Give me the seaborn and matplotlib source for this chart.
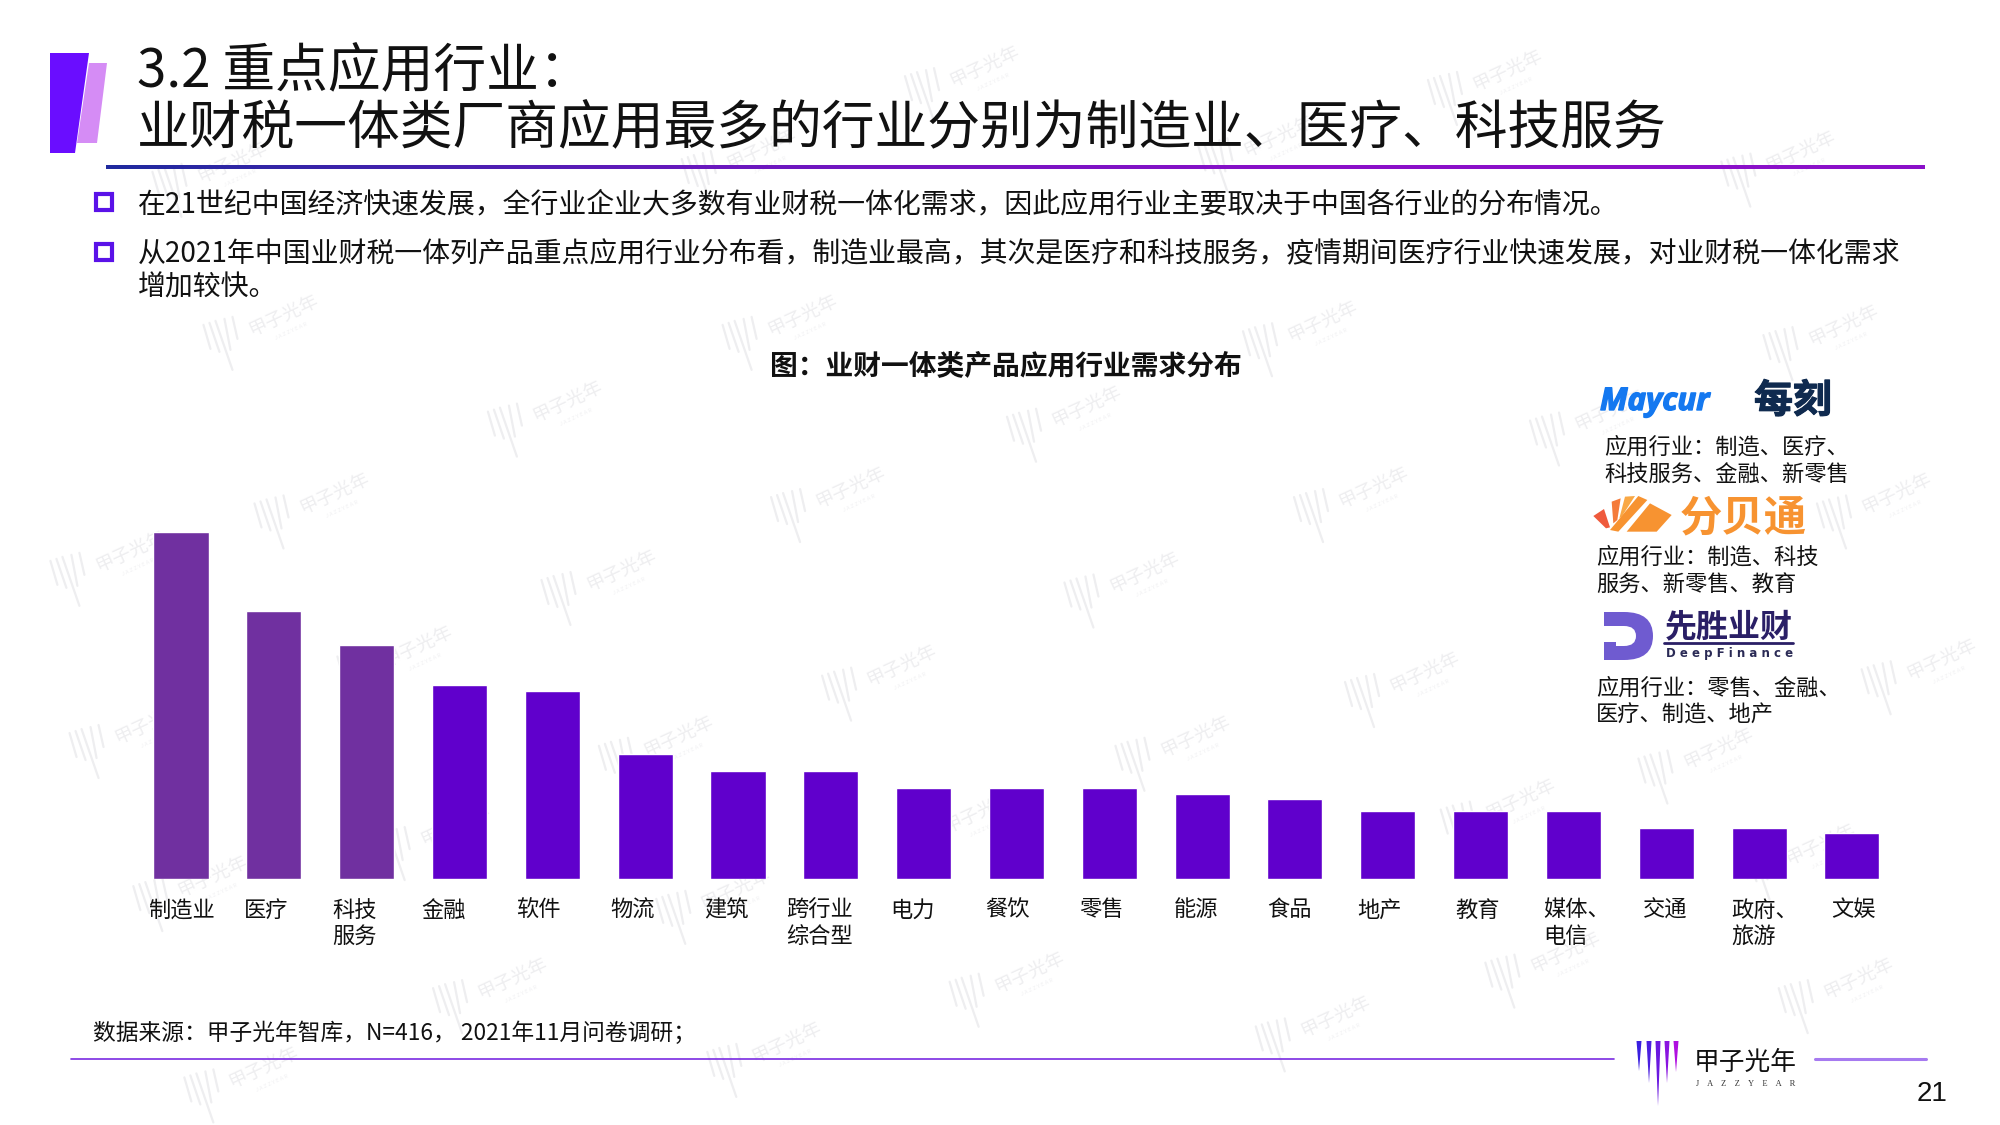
import numpy as np
import pandas as pd
import seaborn as sns
import matplotlib
matplotlib.use("Agg")
import matplotlib.pyplot as plt
import matplotlib.patheffects as pe
from matplotlib.patches import Polygon, Rectangle, PathPatch
from matplotlib.path import Path
from matplotlib.colors import LinearSegmentedColormap
from matplotlib.transforms import ScaledTranslation

# ---------- data ----------
categories = ["制造业", "医疗", "科技\n服务", "金融", "软件", "物流", "建筑", "跨行业\n综合型", "电力", "餐饮",
              "零售", "能源", "食品", "地产", "教育", "媒体、\n电信", "交通", "政府、\n旅游", "文娱"]
values = [61, 47, 41, 34, 33, 22, 19, 19, 16, 16, 16, 15, 14, 12, 12, 12, 9, 9, 8]
highlight = ["#7030A0"] * 3 + ["#6000CC"] * 16
label_shift_px = [0, -8, -12, -15.5, -14, -13, -12, -11.5, -11, -9, -7.5, -6.5, -5.5, -8, -3.5, 3.5, -1, 6, 1]
left_aligned = {"媒体、\n电信", "政府、\n旅游"}

title_lines = ["3.2 重点应用行业：", "业财税一体类厂商应用最多的行业分别为制造业、医疗、科技服务"]
bullets = ["在21世纪中国经济快速发展，全行业企业大多数有业财税一体化需求，因此应用行业主要取决于中国各行业的分布情况。",
           "从2021年中国业财税一体列产品重点应用行业分布看，制造业最高，其次是医疗和科技服务，疫情期间医疗行业快速发展，对业财税一体化需求",
           "增加较快。"]
chart_title = "图：业财一体类产品应用行业需求分布"
source = "数据来源：甲子光年智库，N=416， 2021年11月问卷调研；"
vendor_text = [("应用行业：制造、医疗、", "科技服务、金融、新零售"),
               ("应用行业：制造、科技", "服务、新零售、教育"),
               ("应用行业：零售、金融、", "医疗、制造、地产")]

sns.set_theme(style="white")
CJK = ["Noto Sans CJK SC", "DejaVu Sans"]
plt.rcParams["font.family"] = CJK

W, H = 2000, 1125
fig = plt.figure(figsize=(W / 100, H / 100), dpi=100, facecolor="white")
bg = fig.add_axes([0, 0, 1, 1], zorder=0)
bg.set_xlim(0, W); bg.set_ylim(H, 0); bg.axis("off")


def put(x, y, s, size, color="#111111", ha="left", va="center", **kw):
    return bg.text(x, y, s, fontsize=size, color=color, ha=ha, va=va, **kw)


# ---------- watermarks ----------
wm_centres = [(755, 55), (1165, 58), (1395, 122), (985, 110), (580, 120), (165, 130),
              (205, 250), (612, 250), (1020, 255), (1428, 258),
              (428, 318), (835, 322), (1245, 325),
              (245, 390), (650, 385), (1060, 385), (1470, 390),
              (85, 435), (470, 450), (880, 452),
              (310, 510), (690, 525), (1100, 530), (1505, 520),
              (100, 570), (515, 580), (920, 580), (1330, 590),
              (340, 650), (750, 640), (1175, 630), (1410, 665),
              (150, 690), (560, 700),
              (385, 770), (790, 765), (1210, 750), (1440, 770),
              (190, 840), (600, 820), (1030, 800)]
wm_lines = [((-58, 6), (-51, 30)), ((-52, 4), (-42, 33)), ((-46, 2), (-29, 51)),
            ((-37, 0), (-31, 31)), ((-29, -2), (-24, 20))]
for cx, cy in wm_centres:
    px, py = cx * 1.2755, cy * 1.2755
    for (a, b), (c, d) in wm_lines:
        bg.plot([px + a, px + c], [py + b, py + d], color="#eeeef0", lw=1.6, zorder=1, solid_capstyle="round")
    put(px + 22, py - 4, "甲子光年", 13.5, color="#eeeef0", ha="center", rotation=25, zorder=1)
    put(px + 30, py + 12, "J A Z Z Y E A R", 4, color="#f0f0f2", ha="center", rotation=25, zorder=1)

# ---------- header ----------
bg.add_patch(Polygon([(50, 53), (89, 53), (75, 153), (50, 153)], color="#6A0DFF", lw=0, zorder=3))
bg.add_patch(Polygon([(89, 63), (107, 63), (97, 143), (77, 143)], color="#D58CF5", lw=0, zorder=2))
grad = LinearSegmentedColormap.from_list("g", ["#1F2A9E", "#6A18BE", "#8A10C8", "#8A10C8"])
bg.imshow(np.linspace(0, 1, 256).reshape(1, -1), cmap=grad, aspect="auto",
          extent=(106, 1925, 169, 165), zorder=3)
bg.set_xlim(0, W); bg.set_ylim(H, 0)

put(137, 72, title_lines[0], 38)
put(137, 129, title_lines[1], 38)
for y in (202, 252):
    bg.add_patch(Rectangle((96, y - 8), 16, 16, fill=False, ec="#5A12E8", lw=3, zorder=3))
put(138, 204, bullets[0], 20.1)
put(138, 254, bullets[1], 20.1)
put(138, 288, bullets[2], 20.1)
put(1006, 366, chart_title, 20, ha="center", fontweight="bold")

# ---------- bars ----------
BASE, TOP, LEFT, RIGHT = 879, 482, 135, 1900
PER_BAR = 92.83
ax = fig.add_axes([LEFT / W, 1 - BASE / H, (RIGHT - LEFT) / W, (BASE - TOP) / H], zorder=2)
ax.patch.set_alpha(0)
df = pd.DataFrame({"行业": categories, "需求": values})
sns.barplot(data=df, x="行业", y="需求", hue="行业", palette=highlight, width=0.593,
            dodge=False, legend=False, saturation=1, ax=ax)
ax.set_xlim((LEFT - 181) / PER_BAR, (RIGHT - 181) / PER_BAR)
ax.set_ylim(0, 69.7)
ax.set_xlabel(""); ax.set_ylabel(""); ax.set_yticks([])
sns.despine(ax=ax, left=True, bottom=True)
ax.tick_params(axis="x", length=0, pad=14, labelsize=16, labelcolor="#111111")
ax.grid(False)
for lab, dx in zip(ax.get_xticklabels(), label_shift_px):
    lab.set_linespacing(1.17)
    lab.set_verticalalignment("top")
    if lab.get_text() in left_aligned:
        lab.set_multialignment("left")
    lab.set_transform(lab.get_transform() + ScaledTranslation(dx / 100, 0, fig.dpi_scale_trans))

# ---------- vendors ----------
t = put(1600, 402, "Maycur", 22.5, color="#1478F0", fontweight="bold", style="italic", family="Open Sans")
t.set_path_effects([pe.withStroke(linewidth=1.0, foreground="#1478F0")])
t = put(1754, 401, "每刻", 28, color="#0F2A4F", fontweight="bold")
t.set_path_effects([pe.withStroke(linewidth=0.8, foreground="#0F2A4F")])
for (x, y1, y2), (a, b) in zip([(1604, 447, 475.5), (1596, 557, 585.5), (1596, 688, 715.5)], vendor_text):
    put(x, y1, a, 16)
    put(x, y2, b, 16)


def z(pts):
    return [(1500 + p / 3, 360 + q / 3) for p, q in pts]


for pts, c in [([(280, 468), (312, 447), (330, 502), (318, 505)], "#EF5A3C"),
               ([(335, 425), (362, 415), (352, 480), (340, 490)], "#F47B3A"),
               ([(375, 410), (405, 408), (365, 470), (358, 475)], "#F9A845"),
               ([(415, 408), (442, 420), (355, 515), (330, 510)], "#F79331"),
               ([(380, 515), (450, 430), (515, 465), (470, 515)], "#F79331")]:
    bg.add_patch(Polygon(z(pts), color=c, lw=0, zorder=3))
put(1680, 518, "分贝通", 30.5, color="#F79331", fontweight="bold")

x0, x1, y0, y1 = 1604, 1652, 612, 660
ym = (y0 + y1) / 2
verts = [(x0, y0), (x0 + 20, y0), (x1 + 1, y0), (x1 + 1, ym), (x1 + 1, y1), (x0 + 20, y1), (x0, y1),
         (x0, y1 - 18), (x0 + 12, y1 - 18), (x0 + 12, y1 - 14), (x0 + 20, y1 - 14),
         (x0 + 32, y1 - 14), (x0 + 32, ym), (x0 + 32, y0 + 14), (x0 + 20, y0 + 14), (x0, y0 + 14), (x0, y0)]
codes = [Path.MOVETO, Path.LINETO, Path.CURVE3, Path.CURVE3, Path.CURVE3, Path.CURVE3, Path.LINETO,
         Path.LINETO, Path.LINETO, Path.LINETO, Path.LINETO,
         Path.CURVE3, Path.CURVE3, Path.CURVE3, Path.CURVE3, Path.LINETO, Path.CLOSEPOLY]
bg.add_patch(PathPatch(Path(verts, codes), fc="#6F5BD0", ec="none", zorder=3))
put(1665, 627, "先胜业财", 23, color="#2A1F66", fontweight="bold")
bg.plot([1664, 1793], [643, 643], color="#2A1F66", lw=2, zorder=3)
put(1666, 653, "D e e p F i n a n c e", 8.5, color="#2A2A55", fontweight="bold", family="DejaVu Sans")

# ---------- footer ----------
put(93, 1033, source, 16.4)
bg.plot([71, 1614], [1059, 1059], color="#7A2BE2", lw=1.2, zorder=3)
bg.plot([1815, 1926], [1059, 1059], color="#A67AF0", lw=2.2, zorder=3)
for xc, ybot, c in [(1639, 1071, "#3A1FE0"), (1649, 1083, "#4A1FE0"), (1658, 1106, "#6A18E0"),
                    (1667, 1083, "#8A14E0"), (1676, 1072, "#B010E0")]:
    bg.add_patch(Polygon([(xc - 2.5, 1041), (xc + 2.5, 1041), (xc, ybot)], color=c, lw=0, zorder=3))
put(1694, 1063, "甲子光年", 18.5, color="#111111")
put(1696, 1084, "J    A    Z    Z    Y    E    A    R", 6, color="#333333", family="Liberation Serif")
put(1932, 1094, "21", 20, ha="center", family="Liberation Sans")

fig.savefig("out.png", dpi=100)
